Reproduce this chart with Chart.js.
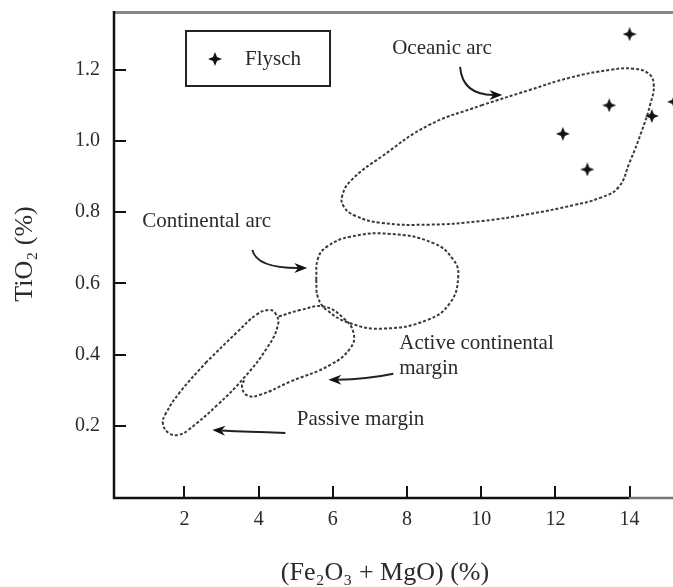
<!DOCTYPE html>
<html>
<head>
<meta charset="utf-8">
<script src="https://cdn.jsdelivr.net/npm/chart.js@4.4.1/dist/chart.umd.min.js"></script>
<style>
  html, body { margin: 0; padding: 0; background: #fff; }
</style>
</head>
<body>
<canvas id="chart" width="673" height="587"></canvas>
<script>
const xTicks = [2, 4, 6, 8, 10, 12, 14];
const yTicks = [0.2, 0.4, 0.6, 0.8, 1.0, 1.2];
const xTitle = '(Fe₂O₃ + MgO) (%)';
const yTitle = 'TiO₂ (%)';

// Flysch samples
const flyschX = [14.0, 13.45, 12.2, 12.86, 14.6, 15.2];
const flyschY = [1.30, 1.10, 1.02, 0.92, 1.07, 1.11];

// field outlines
const oceanicX = [10.0, 11.3, 12.4, 13.5, 14.1, 14.5, 14.65, 14.55, 14.3, 14.0, 13.7, 13.2, 12.5, 11.3, 10.0, 8.6, 7.3, 6.6, 6.3, 6.25, 6.5, 7.3, 8.6, 10.0];
const oceanicY = [1.10, 1.143, 1.178, 1.20, 1.203, 1.19, 1.16, 1.10, 1.02, 0.94, 0.87, 0.84, 0.82, 0.795, 0.775, 0.765, 0.77, 0.79, 0.815, 0.845, 0.89, 0.955, 1.045, 1.10];

const contArcX = [5.55, 5.6, 5.84, 6.47, 7.36, 8.54, 9.16, 9.38, 9.25, 8.71, 7.55, 6.47, 5.84, 5.6, 5.55];
const contArcY = [0.61, 0.56, 0.525, 0.488, 0.473, 0.497, 0.545, 0.619, 0.666, 0.713, 0.739, 0.731, 0.703, 0.67, 0.61];

const passiveX = [2.6, 1.89, 1.5, 1.42, 1.6, 1.85, 2.1, 2.88, 3.59, 4.22, 4.52, 4.45, 4.27, 3.95, 3.41, 2.6];
const passiveY = [0.38, 0.296, 0.235, 0.205, 0.178, 0.175, 0.188, 0.258, 0.333, 0.418, 0.483, 0.516, 0.525, 0.513, 0.462, 0.38];

const activeX = [4.54, 5.12, 5.75, 6.29, 6.56, 6.47, 5.93, 4.85, 4.04, 3.7, 3.55, 3.64];
const activeY = [0.507, 0.525, 0.535, 0.502, 0.46, 0.418, 0.371, 0.324, 0.287, 0.285, 0.31, 0.333];

// field names and where they sit (data units, left edge / middle line)
const noteText = ['Oceanic arc', 'Continental arc', 'Active continental', 'margin', 'Passive margin'];
const noteX = [7.6, 0.86, 7.79, 7.79, 5.03];
const noteY = [1.261, 0.775, 0.43, 0.36, 0.218];

// arrows: tail, bend, tip
const arrows = [
  [[9.43, 1.208], [9.49, 1.13], [10.57, 1.129]],
  [[3.83, 0.694], [3.94, 0.643], [5.31, 0.643]],
  [[7.63, 0.346], [6.9, 0.33], [5.88, 0.329]],
  [[4.72, 0.18], [3.7, 0.183], [2.75, 0.188]]
];

const serif = "'Liberation Serif', 'Times New Roman', serif";
const ink = '#2b2b2b';

function pts(xs, ys) {
  return xs.map((x, i) => ({ x: x, y: ys[i] }));
}

function starImage(r) {
  const c = document.createElement('canvas');
  c.width = c.height = 2 * r;
  const g = c.getContext('2d');
  g.fillStyle = '#111';
  g.beginPath();
  for (let i = 0; i < 8; i++) {
    const a = i * Math.PI / 4 - Math.PI / 2;
    const rr = i % 2 ? r * 0.4 : r;
    g.lineTo(r + rr * Math.cos(a), r + rr * Math.sin(a));
  }
  g.closePath();
  g.fill();
  return c;
}
const star = starImage(7);

function field(label, xs, ys) {
  return {
    label: label,
    data: pts(xs, ys),
    showLine: true,
    borderColor: '#3a3a3a',
    borderWidth: 2,
    borderDash: [3, 2],
    tension: 0.45,
    pointRadius: 0,
    fill: false
  };
}

const frame = {
  id: 'frame',
  afterDraw(chart) {
    const ctx = chart.ctx;
    const xs = chart.scales.x, ys = chart.scales.y;
    const a = chart.chartArea;
    ctx.save();
    ctx.lineCap = 'butt';

    // box
    ctx.strokeStyle = '#888';
    ctx.lineWidth = 3;
    ctx.beginPath(); ctx.moveTo(a.left, a.top + 1.5); ctx.lineTo(a.right, a.top + 1.5); ctx.stroke();
    ctx.strokeStyle = '#111';
    ctx.lineWidth = 2.5;
    ctx.beginPath();
    ctx.moveTo(a.left, a.top);
    ctx.lineTo(a.left, a.bottom + 1);
    ctx.lineTo(xs.getPixelForValue(14), a.bottom + 1);
    ctx.stroke();
    ctx.strokeStyle = '#777';
    ctx.beginPath(); ctx.moveTo(xs.getPixelForValue(14), a.bottom + 1); ctx.lineTo(a.right, a.bottom + 1); ctx.stroke();

    // inward ticks
    ctx.strokeStyle = '#111';
    ctx.lineWidth = 2;
    ctx.beginPath();
    yTicks.forEach(v => {
      const py = Math.round(ys.getPixelForValue(v));
      ctx.moveTo(a.left, py); ctx.lineTo(a.left + 12, py);
    });
    xTicks.forEach(v => {
      const px = Math.round(xs.getPixelForValue(v));
      ctx.moveTo(px, a.bottom); ctx.lineTo(px, a.bottom - 11);
    });
    ctx.stroke();

    // x title sits a little left of the plot centre
    ctx.fillStyle = ink;
    ctx.font = '26px ' + serif;
    ctx.textAlign = 'center';
    ctx.textBaseline = 'middle';
    ctx.fillText(xTitle, 385, 573);

    // legend
    ctx.strokeStyle = '#222';
    ctx.lineWidth = 2;
    ctx.strokeRect(186, 31, 144, 55);
    ctx.drawImage(star, 215 - 7, 59 - 7);
    ctx.font = '21px ' + serif;
    ctx.textAlign = 'left';
    ctx.fillText(chart.data.datasets[0].label, 245, 59);

    // field names
    noteText.forEach((t, i) => {
      ctx.fillText(t, xs.getPixelForValue(noteX[i]), ys.getPixelForValue(noteY[i]));
    });

    // arrows
    ctx.strokeStyle = '#222';
    ctx.fillStyle = '#111';
    ctx.lineWidth = 2;
    arrows.forEach(([t, c, h]) => {
      const tx = xs.getPixelForValue(t[0]), ty = ys.getPixelForValue(t[1]);
      const cx = xs.getPixelForValue(c[0]), cy = ys.getPixelForValue(c[1]);
      const hx = xs.getPixelForValue(h[0]), hy = ys.getPixelForValue(h[1]);
      const ang = Math.atan2(hy - cy, hx - cx);
      const bx = hx - 9 * Math.cos(ang), by = hy - 9 * Math.sin(ang);
      ctx.beginPath();
      ctx.moveTo(tx, ty);
      ctx.quadraticCurveTo(cx, cy, bx, by);
      ctx.stroke();
      ctx.beginPath();
      ctx.moveTo(hx, hy);
      ctx.lineTo(hx - 13 * Math.cos(ang) + 5 * Math.sin(ang), hy - 13 * Math.sin(ang) - 5 * Math.cos(ang));
      ctx.lineTo(bx, by);
      ctx.lineTo(hx - 13 * Math.cos(ang) - 5 * Math.sin(ang), hy - 13 * Math.sin(ang) + 5 * Math.cos(ang));
      ctx.closePath();
      ctx.fill();
    });
    ctx.restore();
  }
};

new Chart(document.getElementById('chart'), {
  type: 'scatter',
  data: {
    datasets: [
      {
        label: 'Flysch',
        data: pts(flyschX, flyschY),
        pointStyle: star,
        pointRadius: 7,
        showLine: false
      },
      field('Oceanic arc', oceanicX, oceanicY),
      field('Continental arc', contArcX, contArcY),
      field('Passive margin', passiveX, passiveY),
      field('Active continental margin', activeX, activeY)
    ]
  },
  options: {
    responsive: false,
    animation: false,
    layout: { autoPadding: false, padding: { top: 11, right: 0, bottom: 0, left: 0 } },
    plugins: {
      legend: { display: false },
      tooltip: { enabled: false }
    },
    scales: {
      x: {
        type: 'linear',
        min: 0.1,
        max: 15.17,
        afterBuildTicks: s => { s.ticks = xTicks.map(v => ({ value: v })); },
        afterFit: s => { s.height = 90; s.paddingLeft = 0; s.paddingRight = 0; },
        grid: { display: false, drawTicks: false },
        border: { display: false },
        ticks: {
          font: { family: serif, size: 20 },
          color: ink,
          padding: 11,
          maxRotation: 0,
          autoSkip: false
        },
        title: { display: false }
      },
      y: {
        type: 'linear',
        min: 0,
        max: 1.365,
        afterBuildTicks: s => { s.ticks = yTicks.map(v => ({ value: v })); },
        afterFit: s => { s.width = 114; s.paddingTop = 0; s.paddingBottom = 0; },
        grid: { display: false, drawTicks: false },
        border: { display: false },
        ticks: {
          font: { family: serif, size: 20 },
          color: ink,
          padding: 14,
          callback: v => v.toFixed(1)
        },
        title: {
          display: true,
          text: yTitle,
          font: { family: serif, size: 26 },
          color: ink,
          padding: { top: 10, bottom: 0 }
        }
      }
    }
  },
  plugins: [frame]
});
</script>
</body>
</html>
